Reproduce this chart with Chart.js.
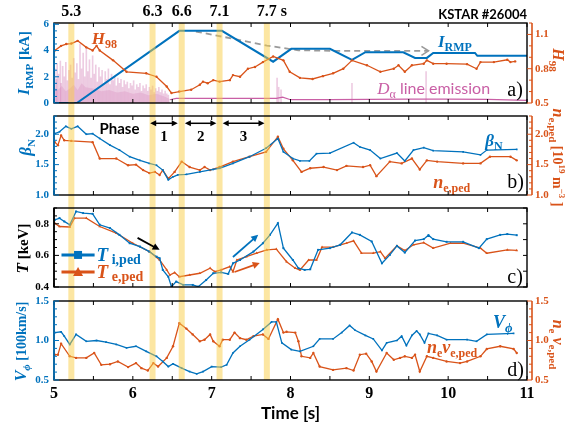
<!DOCTYPE html>
<html><head><meta charset="utf-8">
<script src="https://cdn.jsdelivr.net/npm/chart.js@4/dist/chart.umd.min.js"></script>
<style>
html,body{margin:0;padding:0;background:#fff;}
#wrap{position:relative;width:575px;height:432px;overflow:hidden;}
#wrap canvas{position:absolute;left:0;top:0;}
</style></head><body>
<div id="wrap">
<canvas id="ca" width="575" height="432"></canvas>
<canvas id="cb" width="575" height="432"></canvas>
<canvas id="cc" width="575" height="432"></canvas>
<canvas id="cd" width="575" height="432"></canvas>
</div>
<script>
// ================= DATA =================
const bandT = [5.22, 6.25, 6.62, 7.10, 7.70];
const bandLabels = ['5.3', '6.3', '6.6', '7.1', '7.7 s'];
const xTicks = [5, 6, 7, 8, 9, 10, 11];

// a) I_RMP [kA], H98, D-alpha
const irmpT = [5.0, 5.29, 6.59, 7.13, 7.78, 8.01, 8.50, 8.78, 8.95, 9.43, 9.58, 9.73, 9.81, 10.34, 10.37, 11.0];
const irmpV = [0, 0, 5.5, 5.5, 3.15, 4.13, 4.13, 3.28, 3.87, 3.87, 3.44, 3.44, 3.82, 3.82, 3.6, 3.6];
const rmpTrendT = [6.8, 7.27, 7.7, 8.1, 8.5, 9.75];
const rmpTrendV = [5.45, 4.9, 4.38, 4.02, 3.98, 3.98];
const h98T = [5.01,5.09,5.155,5.22,5.30,5.41,5.49,5.54,5.58,5.75,5.92,6.17,6.30,6.43,6.49,6.59,6.74,6.85,6.89,6.95,7.02,7.10,7.23,7.27,7.36,7.46,7.55,7.65,7.78,7.91,7.99,8.12,8.28,8.41,8.54,8.67,8.78,8.97,9.14,9.31,9.37,9.45,9.54,9.69,9.73,9.81,9.98,10.24,10.36,10.41,10.58,10.75,10.79,10.85];
const h98V = [0.96,1.0,1.016,1.02,1.044,0.987,0.96,1.0,0.96,0.873,0.773,0.76,0.73,0.644,0.587,0.60,0.616,0.66,0.687,0.673,0.70,0.687,0.70,0.744,0.73,0.80,0.815,0.858,0.907,0.873,0.773,0.72,0.71,0.735,0.76,0.80,0.873,0.83,0.773,0.80,0.83,0.773,0.83,0.844,0.873,0.844,0.844,0.84,0.80,0.858,0.858,0.878,0.858,0.864];
const dAlphaT = [5.01,5.03,5.04,5.06,5.08,5.09,5.11,5.13,5.15,5.17,5.19,5.21,5.23,5.25,5.27,5.29,5.31,5.33,5.35,5.37,5.39,5.41,5.43,5.45,5.47,5.49,5.51,5.53,5.55,5.57,5.59,5.61,5.63,5.65,5.67,5.69,5.71,5.73,5.75,5.77,5.79,5.81,5.83,5.85,5.87,5.89,5.91,5.93,5.95,5.97,5.99,6.01,6.03,6.05,6.07,6.09,6.11,6.13,6.15,6.17,6.19,6.21,6.23,6.25,6.27,6.29,6.31,6.33,6.35,6.37,6.39,6.41,6.43,6.45,7.83,7.85,7.88,8.78,9.72];
const dAlphaV = [2.6,1.8,3.0,2.2,3.2,1.5,2.8,2.0,3.1,1.7,2.5,2.9,1.9,3.4,2.3,3.0,1.8,4.5,2.6,3.8,2.0,4.2,2.4,3.3,1.9,3.6,2.2,2.9,1.6,2.7,2.0,2.5,1.5,2.4,1.8,2.6,1.4,2.2,1.7,2.0,1.3,1.9,1.5,1.8,1.2,1.7,1.4,1.6,1.1,1.5,1.3,1.7,1.0,1.4,1.2,1.5,0.9,1.3,1.1,1.4,0.9,1.2,1.0,1.3,0.8,1.1,0.9,1.2,0.8,1.0,0.7,0.9,0.7,0.6,1.9,1.2,1.0,1.5,2.4];
const dAlphaFillT = [5.0,5.05,5.1,5.15,5.2,5.25,5.3,5.35,5.4,5.5,5.6,5.7,5.8,5.9,6.0,6.1,6.2,6.3,6.4,6.47];
const dAlphaFillV = [1.2,1.0,1.3,0.9,1.1,1.4,1.0,1.5,1.2,1.1,0.9,1.0,0.8,0.9,0.7,0.8,0.6,0.7,0.5,0.3];
const dAlphaBaseT = [6.47,6.55,7.0,7.5,7.82,7.9,8.0,8.5,9.0,9.5,10.0,10.5,11.0];
const dAlphaBaseV = [0.25,0.35,0.35,0.36,0.35,0.45,0.25,0.25,0.28,0.3,0.3,0.27,0.2];
const aLeftTicks = [0, 2, 4, 6];
const aRightTicks = [0.5, 0.8, 1.1];

// b) beta_N, n_e,ped
const betaT = [5.01,5.07,5.15,5.22,5.30,5.41,5.49,5.58,5.71,5.83,5.96,6.09,6.21,6.30,6.38,6.45,6.51,6.57,6.68,6.85,7.02,7.10,7.27,7.48,7.69,7.84,7.91,8.03,8.12,8.24,8.33,8.50,8.80,8.88,9.01,9.14,9.35,9.45,9.56,9.69,9.81,10.19,10.41,10.49,10.87];
const betaV = [2.01,2.04,2.13,2.09,2.13,2.0,2.01,1.93,1.82,1.74,1.63,1.57,1.52,1.49,1.41,1.25,1.30,1.33,1.34,1.38,1.42,1.44,1.52,1.63,1.77,1.93,1.71,1.60,1.56,1.56,1.68,1.69,1.86,1.79,1.74,1.60,1.69,1.56,1.74,1.78,1.73,1.71,1.66,1.74,1.75];
const nePedT = [5.01,5.05,5.09,5.13,5.22,5.49,5.58,5.79,5.94,6.04,6.13,6.21,6.28,6.34,6.38,6.45,6.53,6.62,6.72,6.85,6.91,6.98,7.10,7.27,7.48,7.69,7.84,7.91,8.03,8.14,8.25,8.42,8.59,8.71,8.92,9.01,9.09,9.26,9.41,9.54,9.64,9.73,9.86,10.19,10.41,10.53,10.79,10.87];
const nePedV = [1.87,1.82,1.98,1.90,1.89,1.87,1.60,1.60,1.49,1.50,1.41,1.36,1.38,1.33,1.41,1.27,1.38,1.55,1.46,1.41,1.46,1.41,1.46,1.55,1.63,1.71,1.96,1.76,1.57,1.38,1.44,1.46,1.41,1.48,1.46,1.49,1.31,1.55,1.52,1.60,1.42,1.57,1.55,1.52,1.52,1.63,1.63,1.57];
const bTicks = [1.0, 1.5, 2.0];
const phaseStart = [6.22, 6.66, 7.14];
const phaseEnd = [6.57, 7.06, 7.67];
const phaseNames = ['1', '2', '3'];

// c) T_i,ped, T_e,ped [keV]
const tiT = [5.01,5.07,5.13,5.20,5.28,5.37,5.49,5.58,5.71,5.83,5.96,6.09,6.21,6.30,6.34,6.38,6.45,6.49,6.55,6.64,6.76,6.83,6.93,7.02,7.12,7.21,7.27,7.36,7.53,7.65,7.74,7.84,7.91,8.03,8.10,8.18,8.25,8.35,8.50,8.63,8.78,8.88,9.03,9.16,9.26,9.35,9.45,9.58,9.69,9.75,9.81,9.98,10.19,10.39,10.49,10.66,10.75,10.87];
const tiV = [0.825,0.836,0.815,0.794,0.878,0.868,0.863,0.794,0.773,0.73,0.677,0.656,0.624,0.592,0.582,0.508,0.465,0.402,0.434,0.413,0.413,0.402,0.444,0.487,0.493,0.483,0.55,0.571,0.624,0.677,0.73,0.804,0.646,0.571,0.519,0.508,0.512,0.635,0.646,0.667,0.745,0.73,0.688,0.55,0.603,0.66,0.618,0.694,0.703,0.728,0.703,0.686,0.686,0.646,0.703,0.73,0.735,0.728];
const teT = [5.01,5.07,5.20,5.26,5.41,5.58,5.79,6.00,6.21,6.34,6.43,6.47,6.53,6.59,6.72,6.85,6.98,7.04,7.12,7.23,7.27,7.32,7.44,7.57,7.70,7.82,7.95,8.06,8.12,8.23,8.33,8.40,8.54,8.71,8.80,8.90,9.05,9.14,9.20,9.35,9.45,9.56,9.69,9.81,10.03,10.19,10.41,10.49,10.75,10.87];
const teV = [0.804,0.783,0.78,0.836,0.836,0.783,0.741,0.677,0.624,0.571,0.508,0.476,0.491,0.465,0.476,0.487,0.519,0.497,0.508,0.529,0.497,0.571,0.592,0.614,0.635,0.64,0.56,0.519,0.508,0.571,0.571,0.652,0.652,0.677,0.692,0.614,0.614,0.624,0.582,0.66,0.631,0.667,0.681,0.646,0.677,0.677,0.646,0.614,0.635,0.632];
const cTicks = [0.4, 0.6, 0.8];

// d) V_phi [100 km/s], n_e nu_e,ped
const vphiT = [5.01,5.09,5.13,5.20,5.28,5.41,5.54,5.66,5.79,5.92,6.04,6.17,6.30,6.38,6.45,6.51,6.62,6.72,6.81,6.89,7.00,7.12,7.19,7.27,7.36,7.48,7.65,7.76,7.82,7.89,8.01,8.12,8.29,8.37,8.54,8.65,8.75,8.82,8.95,9.05,9.16,9.22,9.35,9.41,9.47,9.54,9.60,9.64,9.70,9.75,9.86,9.98,10.24,10.36,10.49,10.83];
const vphiV = [1.10,1.11,1.055,0.95,1.077,0.99,1.0,0.98,0.95,0.906,0.927,0.863,0.80,0.735,0.67,0.705,0.65,0.607,0.577,0.607,0.67,0.663,0.692,0.842,0.927,1.01,1.14,1.235,1.235,0.97,0.885,0.863,0.927,1.02,1.02,1.10,1.19,1.13,1.064,1.02,0.875,0.97,1.0,1.055,0.936,1.064,1.12,1.077,0.97,1.09,1.064,1.01,1.01,0.99,1.077,1.09];
const nuT = [5.01,5.05,5.09,5.20,5.28,5.41,5.51,5.60,5.71,5.81,5.94,6.04,6.11,6.19,6.26,6.32,6.43,6.51,6.59,6.68,6.76,6.85,6.91,6.98,7.02,7.10,7.14,7.23,7.29,7.36,7.44,7.53,7.65,7.72,7.84,7.91,7.95,8.06,8.10,8.14,8.25,8.29,8.37,8.54,8.71,8.80,8.88,8.96,9.03,9.09,9.22,9.31,9.39,9.45,9.54,9.58,9.64,9.73,9.81,9.98,10.15,10.24,10.41,10.49,10.66,10.83,10.87];
const nuV = [0.82,0.82,0.96,0.80,0.78,0.78,0.842,0.692,0.70,0.735,0.663,0.714,0.65,0.62,0.714,0.67,0.78,0.927,1.22,1.15,1.077,0.99,1.01,1.077,0.99,0.927,1.01,1.01,1.10,1.03,1.01,1.055,1.077,1.02,1.27,1.10,1.11,1.10,0.99,0.80,0.78,0.842,0.67,0.628,0.65,0.62,0.82,0.833,0.735,0.607,0.842,0.756,0.78,0.80,0.78,0.82,0.607,0.80,0.78,0.735,0.714,0.735,0.80,0.893,0.927,0.893,0.842];
const dTicks = [0.5, 1.0, 1.5];

// ================= STYLE / LAYOUT =================
const BLUE = '#0072BD', ORANGE = '#D95319', PINK = '#C95FA5', GREY = '#9a9a9a';
const BAND_COLOR = 'rgba(249,205,70,0.5)', BAND_HALF = 0.038;
const SERIF = '"Liberation Serif","Times New Roman",serif';
const SANS = 'Lato,"Liberation Sans",sans-serif';
const PANEL = { a: [23, 103], b: [116, 195], c: [208, 287], d: [301, 380] };
const H = 432, LEFTW = 54, RIGHTW = 48;

const f = (style, size, fam) => `${style} ${size}px ${fam}`;
const pts = (t, v) => t.map((x, i) => ({ x: x, y: v[i] }));

function rich(ctx, parts, x, y, align, angle) {
  ctx.save();
  ctx.translate(x, y);
  if (angle) ctx.rotate(angle);
  ctx.textAlign = 'left'; ctx.textBaseline = 'alphabetic';
  let w = 0;
  parts.forEach(p => { ctx.font = p[1]; w += ctx.measureText(p[0]).width; });
  const size = parseFloat(/(\d+(\.\d+)?)px/.exec(parts[0][1])[1]);
  const base = size * 0.34;
  let cx = align === 'center' ? -w / 2 : (align === 'right' ? -w : 0);
  parts.forEach(p => { ctx.font = p[1]; ctx.fillStyle = p[3]; ctx.fillText(p[0], cx, base + p[2]); cx += ctx.measureText(p[0]).width; });
  ctx.restore();
}

function arrow(ctx, x1, y1, x2, y2, color, lw, head, both) {
  ctx.save();
  ctx.strokeStyle = color; ctx.fillStyle = color; ctx.lineWidth = lw;
  const a = Math.atan2(y2 - y1, x2 - x1), c = Math.cos(a), s = Math.sin(a);
  const hw = head * 0.5;
  const sx = both ? x1 + c * head * 0.8 : x1, sy = both ? y1 + s * head * 0.8 : y1;
  ctx.beginPath(); ctx.moveTo(sx, sy); ctx.lineTo(x2 - c * head * 0.8, y2 - s * head * 0.8); ctx.stroke();
  const tip = (tx, ty, d) => {
    ctx.beginPath();
    ctx.moveTo(tx, ty);
    ctx.lineTo(tx - d * c * head + s * hw, ty - d * s * head - c * hw);
    ctx.lineTo(tx - d * c * head - s * hw, ty - d * s * head + c * hw);
    ctx.closePath(); ctx.fill();
  };
  tip(x2, y2, 1);
  if (both) tip(x1, y1, -1);
  ctx.restore();
}

function steps(min, max, st) {
  const out = []; const n = Math.floor((max - min) / st + 1e-6);
  for (let i = 0; i <= n; i++) out.push(min + i * st);
  return out;
}

const decor = {
  id: 'decor',
  afterDatasetsDraw(chart, args, o) {
    const ctx = chart.ctx, ca = chart.chartArea, xs = chart.scales.x, yl = chart.scales.y, yr = chart.scales.y2;
    ctx.save();
    // highlight bands
    ctx.fillStyle = BAND_COLOR;
    bandT.forEach(t => {
      const x1 = xs.getPixelForValue(t - BAND_HALF), x2 = xs.getPixelForValue(t + BAND_HALF);
      ctx.fillRect(x1, ca.top, x2 - x1, o.bandBottom - ca.top);
    });
    if (o.annot) o.annot(chart, ctx);
    const seg = (x1, y1, x2, y2) => { ctx.beginPath(); ctx.moveTo(x1, y1); ctx.lineTo(x2, y2); ctx.stroke(); };
    // frame
    ctx.strokeStyle = '#000'; ctx.lineWidth = 1.4;
    ctx.strokeRect(ca.left, ca.top, ca.width, ca.height);
    ctx.lineWidth = 1;
    steps(xs.min, xs.max, 0.5).forEach(v => {
      const p = xs.getPixelForValue(v);
      seg(p, ca.top, p, ca.top + 4); seg(p, ca.bottom, p, ca.bottom - 4);
    });
    // left axis
    ctx.strokeStyle = o.leftColor; ctx.lineWidth = 1.6;
    seg(ca.left, ca.top, ca.left, ca.bottom);
    ctx.lineWidth = 1;
    steps(yl.min, yl.max, o.leftMinor).forEach(v => {
      const p = yl.getPixelForValue(v);
      const major = yl.ticks.some(t => Math.abs(t.value - v) < 1e-6);
      seg(ca.left, p, ca.left + (major ? 5 : 3), p);
    });
    if (yr) {
      const rx = ca.right + 5;
      ctx.strokeStyle = o.rightColor; ctx.lineWidth = 1.6;
      seg(rx, ca.top, rx, ca.bottom);
      ctx.lineWidth = 1;
      steps(yr.min, yr.max, o.rightMinor).forEach(v => {
        const p = yr.getPixelForValue(v);
        const major = yr.ticks.some(t => Math.abs(t.value - v) < 1e-6);
        seg(rx, p, rx - (major ? 5 : 3), p);
      });
    } else {
      ctx.strokeStyle = '#000';
      steps(yl.min, yl.max, o.rightMinor).forEach(v => {
        const p = yl.getPixelForValue(v);
        seg(ca.right, p, ca.right - 4, p);
      });
    }
    ctx.restore();
  }
};

function yAxis(pos, min, max, tickList, dec, color, show) {
  return {
    type: 'linear', position: pos, min: min, max: max,
    grid: { display: false, drawTicks: false }, border: { display: false },
    afterBuildTicks: s => { s.ticks = tickList.map(v => ({ value: v })); },
    afterFit: s => { s.width = pos === 'left' ? LEFTW : RIGHTW; },
    ticks: { display: show !== false, color: color, font: { family: SERIF, weight: 'bold', size: 11 },
      padding: pos === 'left' ? 5 : 8, callback: v => Number(v).toFixed(dec) }
  };
}
const hiddenX = { type: 'linear', min: 5, max: 11, display: false, offset: false };

function lineDS(t, v, color, axis, extra) {
  return Object.assign({ type: 'line', data: pts(t, v), borderColor: color, backgroundColor: color,
    borderWidth: 1.3, pointRadius: 1.2, pointBorderWidth: 0, pointBackgroundColor: color,
    pointStyle: 'circle', yAxisID: axis, fill: false, tension: 0 }, extra || {});
}

function makeChart(id, panel, padRight, datasets, scales, decorOpts, xOpts) {
  return new Chart(document.getElementById(id), {
    type: 'line',
    data: { datasets: datasets },
    options: {
      responsive: false, animation: false, devicePixelRatio: 1, events: [],
      layout: { padding: { top: panel[0], bottom: xOpts ? 0 : H - panel[1], left: 0, right: padRight } },
      scales: Object.assign({ x: xOpts || hiddenX }, scales),
      plugins: { legend: { display: false }, tooltip: { enabled: false }, decor: decorOpts }
    },
    plugins: [decor]
  });
}

// ---------- annotations ----------
function annotA(chart, ctx) {
  const x = chart.scales.x, y = chart.scales.y, ca = chart.chartArea, mid = (ca.top + ca.bottom) / 2;
  const n = rmpTrendT.length;
  const ex = x.getPixelForValue(rmpTrendT[n - 1]), ey = y.getPixelForValue(rmpTrendV[n - 1]);
  ctx.save(); ctx.strokeStyle = GREY; ctx.lineWidth = 1.6;
  ctx.beginPath(); ctx.moveTo(ex - 7, ey - 4.5); ctx.lineTo(ex, ey); ctx.lineTo(ex - 7, ey + 4.5); ctx.stroke(); ctx.restore();
  rich(ctx, [['H', f('italic bold', 17, SERIF), 0, ORANGE], ['98', f('bold', 12, SERIF), 4, ORANGE]], x.getPixelForValue(5.48), y.getPixelForValue(4.92), 'left');
  rich(ctx, [['I', f('italic bold', 17, SERIF), 0, BLUE], ['RMP', f('bold', 12, SERIF), 4, BLUE]], x.getPixelForValue(9.87), y.getPixelForValue(4.68), 'left');
  rich(ctx, [['D', f('italic', 17, SERIF), 0, PINK], ['α', f('normal', 12, SERIF), 4, PINK], [' line emission', f('normal', 16, SANS), 0, PINK]], x.getPixelForValue(9.10), y.getPixelForValue(1.15), 'left');
  rich(ctx, [['a)', f('normal', 20, SERIF), 0, '#000']], x.getPixelForValue(10.75), y.getPixelForValue(1.05), 'left');
  rich(ctx, [['I', f('italic bold', 16, SERIF), 0, BLUE], ['RMP', f('bold', 11, SERIF), 4, BLUE], [' [kA]', f('bold', 15, SERIF), 0, BLUE]], ca.left - 30, mid, 'center', -Math.PI / 2);
  rich(ctx, [['H', f('italic bold', 16, SERIF), 0, ORANGE], ['98', f('bold', 11, SERIF), 4, ORANGE]], ca.right + 31, mid - 3, 'center', Math.PI / 2);
  // time markers above the bands
  ctx.save();
  ctx.font = f('bold', 16, SERIF); ctx.fillStyle = '#000'; ctx.textAlign = 'left'; ctx.textBaseline = 'middle';
  bandT.forEach((t, i) => {
    const lab = bandLabels[i], main = lab.split(' ')[0];
    const w = ctx.measureText(main).width;
    ctx.fillText(lab, x.getPixelForValue(t) - w / 2, ca.top - 11);
  });
  ctx.restore();
  rich(ctx, [['KSTAR #26004', f('bold', 13, SANS), 0, '#000']], ca.right, ca.top - 8, 'right');
}

function annotB(chart, ctx) {
  const x = chart.scales.x, y = chart.scales.y, ca = chart.chartArea, mid = (ca.top + ca.bottom) / 2;
  rich(ctx, [['β', f('italic bold', 17, SERIF), 0, BLUE], ['N', f('bold', 11, SERIF), 4, BLUE]], ca.left - 29, mid - 8, 'center', -Math.PI / 2);
  rich(ctx, [['n', f('italic bold', 16, SERIF), 0, ORANGE], ['e,ped', f('bold', 11, SERIF), 4, ORANGE], [' [10', f('bold', 14, SERIF), 0, ORANGE], ['19', f('bold', 9, SERIF), -6, ORANGE], [' m', f('bold', 14, SERIF), 0, ORANGE], ['−3', f('bold', 9, SERIF), -6, ORANGE], [' ]', f('bold', 14, SERIF), 0, ORANGE]], ca.right + 31, mid + 2, 'center', Math.PI / 2);
  rich(ctx, [['β', f('italic bold', 17, SERIF), 0, BLUE], ['N', f('bold', 12, SERIF), 4, BLUE]], x.getPixelForValue(10.47), y.getPixelForValue(1.90), 'left');
  rich(ctx, [['n', f('italic bold', 18, SERIF), 0, ORANGE], ['e,ped', f('bold', 12, SERIF), 4, ORANGE]], x.getPixelForValue(9.81), y.getPixelForValue(1.21), 'left');
  rich(ctx, [['b)', f('normal', 20, SERIF), 0, '#000']], x.getPixelForValue(10.75), y.getPixelForValue(1.22), 'left');
  rich(ctx, [['Phase', f('bold', 15, SANS), 0, '#000']], x.getPixelForValue(5.83), y.getPixelForValue(2.08), 'center');
  phaseStart.forEach((t, i) => {
    const yy = y.getPixelForValue(2.18);
    arrow(ctx, x.getPixelForValue(t), yy, x.getPixelForValue(phaseEnd[i]), yy, '#000', 1.5, 6, true);
    rich(ctx, [[phaseNames[i], f('bold', 15, SERIF), 0, '#000']], x.getPixelForValue((t + phaseEnd[i]) / 2), y.getPixelForValue(1.98), 'center');
  });
}

function annotC(chart, ctx) {
  const x = chart.scales.x, y = chart.scales.y, ca = chart.chartArea, mid = (ca.top + ca.bottom) / 2;
  rich(ctx, [['T', f('italic bold', 17, SERIF), 0, '#000'], [' [keV]', f('bold', 15, SERIF), 0, '#000']], ca.left - 32, mid + 1, 'center', -Math.PI / 2);
  // legend
  const leg = [[0.603, BLUE, 'i,ped', 'rect'], [0.495, ORANGE, 'e,ped', 'tri']];
  leg.forEach(L => {
    const yy = y.getPixelForValue(L[0]), x1 = x.getPixelForValue(5.095), x2 = x.getPixelForValue(5.515), xm = (x1 + x2) / 2;
    ctx.save();
    ctx.strokeStyle = L[1]; ctx.fillStyle = L[1]; ctx.lineWidth = 3;
    ctx.beginPath(); ctx.moveTo(x1, yy); ctx.lineTo(x2, yy); ctx.stroke();
    ctx.beginPath();
    if (L[3] === 'rect') ctx.rect(xm - 4, yy - 4, 8, 8);
    else { ctx.moveTo(xm, yy - 5); ctx.lineTo(xm + 5, yy + 4); ctx.lineTo(xm - 5, yy + 4); ctx.closePath(); }
    ctx.fill();
    ctx.restore();
    rich(ctx, [['T', f('italic bold', 19, SERIF), 0, L[1]], [' ' + L[2], f('bold', 14, SERIF), 3, L[1]]], x2 + 2, yy, 'left');
  });
  arrow(ctx, x.getPixelForValue(6.06), y.getPixelForValue(0.711), x.getPixelForValue(6.34), y.getPixelForValue(0.635), '#000', 1.8, 7, false);
  arrow(ctx, x.getPixelForValue(7.27), y.getPixelForValue(0.59), x.getPixelForValue(7.59), y.getPixelForValue(0.73), BLUE, 1.8, 7, false);
  arrow(ctx, x.getPixelForValue(7.29), y.getPixelForValue(0.495), x.getPixelForValue(7.61), y.getPixelForValue(0.552), ORANGE, 1.8, 7, false);
  rich(ctx, [['c)', f('normal', 20, SERIF), 0, '#000']], x.getPixelForValue(10.75), y.getPixelForValue(0.47), 'left');
}

function annotD(chart, ctx) {
  const x = chart.scales.x, y = chart.scales.y, ca = chart.chartArea, mid = (ca.top + ca.bottom) / 2;
  rich(ctx, [['V', f('italic bold', 16, SERIF), 0, BLUE], ['ϕ', f('italic bold', 11, SERIF), 4, BLUE], [' [100km/s]', f('bold', 14, SERIF), 0, BLUE]], ca.left - 33, mid + 1, 'center', -Math.PI / 2);
  rich(ctx, [['n', f('italic bold', 16, SERIF), 0, ORANGE], ['e', f('bold', 11, SERIF), 4, ORANGE], [' ν', f('italic bold', 16, SERIF), 0, ORANGE], ['e,ped', f('bold', 11, SERIF), 4, ORANGE]], ca.right + 31, mid + 4, 'center', Math.PI / 2);
  rich(ctx, [['V', f('italic bold', 18, SERIF), 0, BLUE], ['ϕ', f('italic bold', 13, SERIF), 4, BLUE]], x.getPixelForValue(10.57), y.getPixelForValue(1.23), 'left');
  rich(ctx, [['n', f('italic bold', 18, SERIF), 0, ORANGE], ['e', f('bold', 12, SERIF), 4, ORANGE], ['ν', f('italic bold', 18, SERIF), 0, ORANGE], ['e,ped', f('bold', 12, SERIF), 4, ORANGE]], x.getPixelForValue(9.73), y.getPixelForValue(0.92), 'left');
  rich(ctx, [['d)', f('normal', 20, SERIF), 0, '#000']], x.getPixelForValue(10.75), y.getPixelForValue(0.64), 'left');
}

// ---------- charts ----------
makeChart('ca', PANEL.a, 0, [
  lineDS(h98T, h98V, ORANGE, 'y2'),
  lineDS(irmpT, irmpV, BLUE, 'y', { borderWidth: 2, pointRadius: 0 }),
  lineDS(rmpTrendT, rmpTrendV, GREY, 'y', { borderWidth: 1.8, pointRadius: 0, borderDash: [6, 4] }),
  lineDS(dAlphaBaseT, dAlphaBaseV, PINK, 'y', { borderWidth: 1.2, pointRadius: 0 }),
  lineDS(dAlphaFillT, dAlphaFillV, 'rgba(200,90,160,0.2)', 'y', { borderWidth: 0, pointRadius: 0, fill: 'origin', backgroundColor: 'rgba(200,90,160,0.18)' }),
  { type: 'bar', data: pts(dAlphaT, dAlphaV), backgroundColor: 'rgba(200,95,165,0.32)', borderWidth: 0, barThickness: 1, yAxisID: 'y' }
], {
  y: yAxis('left', 0, 6.1, aLeftTicks, 0, BLUE),
  y2: yAxis('right', 0.5, 1.2, aRightTicks, 1, ORANGE)
}, { leftColor: BLUE, rightColor: ORANGE, leftMinor: 0.5, rightMinor: 0.1, bandBottom: PANEL.b[0], annot: annotA });

makeChart('cb', PANEL.b, 0, [
  lineDS(betaT, betaV, BLUE, 'y', { pointStyle: 'rect' }),
  lineDS(nePedT, nePedV, ORANGE, 'y2')
], {
  y: yAxis('left', 1.0, 2.3, bTicks, 1, BLUE),
  y2: yAxis('right', 1.0, 2.3, bTicks, 1, ORANGE)
}, { leftColor: BLUE, rightColor: ORANGE, leftMinor: 0.1, rightMinor: 0.1, bandBottom: PANEL.c[0], annot: annotB });

makeChart('cc', PANEL.c, RIGHTW, [
  lineDS(tiT, tiV, BLUE, 'y', { pointStyle: 'rect', pointRadius: 1.4 }),
  lineDS(teT, teV, ORANGE, 'y', { pointStyle: 'triangle', pointRadius: 1.6 })
], {
  y: yAxis('left', 0.4, 0.9, cTicks, 1, '#000')
}, { leftColor: '#000', leftMinor: 0.05, rightMinor: 0.1, bandBottom: PANEL.d[0], annot: annotC });

makeChart('cd', PANEL.d, 0, [
  lineDS(vphiT, vphiV, BLUE, 'y', { pointStyle: 'rect' }),
  lineDS(nuT, nuV, ORANGE, 'y2')
], {
  y: yAxis('left', 0.5, 1.5, dTicks, 1, BLUE),
  y2: yAxis('right', 0.5, 1.5, dTicks, 1, ORANGE)
}, { leftColor: BLUE, rightColor: ORANGE, leftMinor: 0.1, rightMinor: 0.1, bandBottom: PANEL.d[1], annot: annotD }, {
  type: 'linear', min: 5, max: 11, position: 'bottom', offset: false,
  grid: { display: false, drawTicks: false }, border: { display: false },
  afterBuildTicks: s => { s.ticks = xTicks.map(v => ({ value: v })); },
  afterFit: s => { s.height = H - PANEL.d[1]; },
  ticks: { color: '#000', font: { family: SERIF, weight: 'bold', size: 16 }, padding: 4, maxRotation: 0, autoSkip: false },
  title: { display: true, text: 'Time [s]', color: '#000', font: { family: SANS, weight: 'bold', size: 17 }, padding: { top: 0, bottom: 8 } }
});
</script>
</body></html>
